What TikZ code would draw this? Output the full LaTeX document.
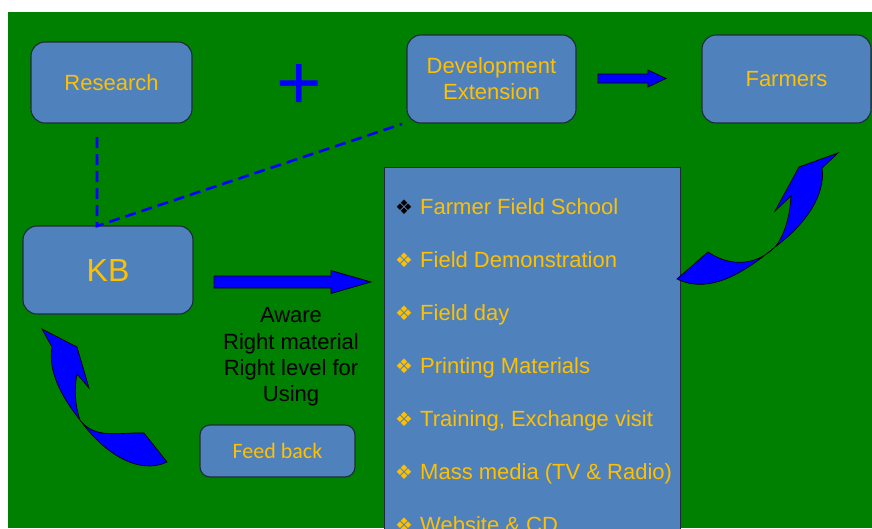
\documentclass[tikz,border=0pt]{standalone}
\usepackage{fontspec}
\setmainfont{Liberation Sans}
\newfontfamily\feedfont{Carlito}
\newfontfamily\bulfont{DejaVu Sans}
\newcommand{\bul}[1]{\makebox[25pt][l]{\textcolor{#1}{\bulfont\fontsize{20}{20}\selectfont ❖}}}
\begin{document}
\begin{tikzpicture}[x=1pt, y=-1pt,
  box/.style={draw=boxline, line width=1.1pt, fill=boxfill, rounded corners=14pt, text=gold, inner sep=0pt, align=center, font=\fontsize{22}{26}\selectfont},
  item/.style={anchor=base west, inner sep=0pt, text=gold, font=\fontsize{22}{26}\selectfont},
  blockarr/.style={fill=arrblue, draw=black, line width=0.7pt},
  link/.style={draw=arrblue, line width=2.6pt, dash pattern=on 11pt off 6pt}]
\definecolor{bg}{HTML}{008000}
\definecolor{boxfill}{HTML}{4F81BD}
\definecolor{boxline}{HTML}{1E2B3A}
\definecolor{gold}{HTML}{FFC000}
\definecolor{arrblue}{HTML}{0000FF}
\useasboundingbox (0,0) rectangle (872,528);
\fill[bg] (8,12) rectangle (872,528);
\node[box, minimum width=161, minimum height=81] (research) at (111.5,82.5) {Research};
\node[box, minimum width=169, minimum height=88] (dev) at (491.5,79) {Development\\Extension};
\node[box, minimum width=169, minimum height=88] (farmers) at (786.5,79) {Farmers};
\node[box, minimum width=170, minimum height=88, font=\fontsize{32}{32}\selectfont] (kb) at (108,270) {KB};
\node[box, rounded corners=10pt, minimum width=155, minimum height=52, font=\feedfont\fontsize{22}{26}\selectfont] (feedback) at (277.5,451) {Feed back};
\node[anchor=base, inner sep=0pt, text=arrblue, font=\fontsize{78}{78}\selectfont] (plus) at (299.5,109) {+};
\node[text=black, align=center, inner sep=0pt, font=\fontsize{22}{26.3}\selectfont] (aware) at (291,357) {Aware\\Right material\\Right level for\\Using};
\node[draw=boxline, line width=1.1pt, fill=boxfill, anchor=north west, inner sep=0pt, minimum width=296, minimum height=400] (media) at (384,167) {};
\node[item] (m1) at (395,214) {\bul{black}Farmer Field School};
\node[item] (m2) at (395,267) {\bul{gold}Field Demonstration};
\node[item] (m3) at (395,320) {\bul{gold}Field day};
\node[item] (m4) at (395,373) {\bul{gold}Printing Materials};
\node[item] (m5) at (395,426) {\bul{gold}Training, Exchange visit};
\node[item] (m6) at (395,479) {\bul{gold}Mass media (TV \& Radio)};
\node[item] (m7) at (395,532) {\bul{gold}Website \& CD};
\coordinate (resfoot) at (97,137);
\coordinate (kbjoin) at (97,226);
\coordinate (devfoot) at (402,124);
\draw[link] (resfoot) -- (kbjoin) -- (devfoot);
\coordinate (kbarr) at (214,282);
\filldraw[blockarr] (kbarr) ++(0,-6) -- ++(117,0) -- ++(0,-5.5) -- ++(40,11.5) -- ++(-40,11.5) -- ++(0,-5.5) -- ++(-117,0) -- cycle;
\coordinate (devarr) at (598,78.5);
\filldraw[blockarr] (devarr) ++(0,-4.5) -- ++(50,0) -- ++(0,-4) -- ++(18,8.5) -- ++(-18,8.5) -- ++(0,-4) -- ++(-50,0) -- cycle;
\filldraw[blockarr] (677,279) -- (708,252) .. controls (735,270) and (760,262) .. (775,247) .. controls (785,235) and (790,215) .. (791,196) -- (775,211) -- (799,167) -- (838,153) -- (822,168) .. controls (826,195) and (805,225) .. (775,247) .. controls (745,272) and (710,295) .. (677,279) -- cycle;
\filldraw[blockarr] (42,329) -- (77,347) -- (89,388) -- (77,374) .. controls (74,390) and (75,405) .. (80,420) .. controls (95,440) and (120,432) .. (144,433) -- (167,462) .. controls (140,475) and (105,455) .. (80,420) .. controls (60,395) and (48,370) .. (52,347) -- cycle;
\end{tikzpicture}
\end{document}
